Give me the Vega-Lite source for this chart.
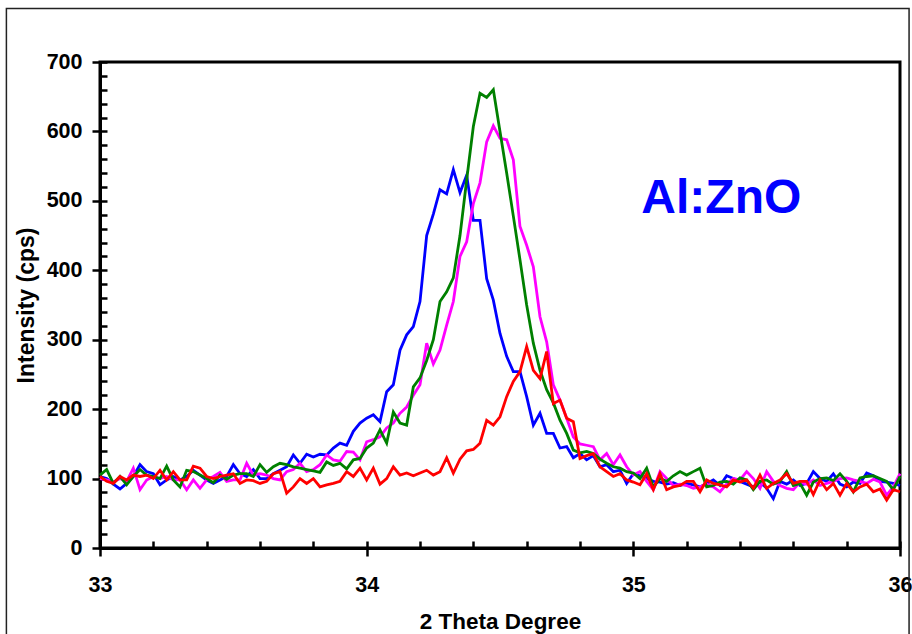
{
  "$schema": "https://vega.github.io/schema/vega-lite/v6.json",
  "width": 800,
  "height": 486,
  "autosize": "none",
  "padding": {"left": 100, "top": 62, "right": 12, "bottom": 86},
  "background": "white",
  "config": {"view": {"stroke": "#000", "strokeWidth": 3}, "font": "Liberation Sans"},
  "resolve": {"axis": {"x": "independent", "y": "independent"}},
  "layer": [
    {
      "data": {"values": [{}]},
      "mark": {"type": "rect", "fill": "white", "fillOpacity": 0, "stroke": "#222", "strokeWidth": 1.5, "clip": false},
      "encoding": {
        "x": {"datum": 32.649, "type": "quantitative", "scale": {"domain": [33, 36], "nice": false, "zero": false},
          "axis": {"orient": "bottom", "values": [33, 33.2, 33.4, 33.6, 33.8, 34, 34.2, 34.4, 34.6, 34.8, 35, 35.2, 35.4, 35.6, 35.8, 36], "tickSize": -7, "tickWidth": 2.5, "tickColor": "#000", "labels": false, "domain": false, "grid": false, "title": null}},
        "x2": {"datum": 36.034},
        "y": {"datum": 777, "type": "quantitative", "scale": {"domain": [0, 700], "nice": false, "zero": false},
          "axis": {"orient": "left", "values": [0, 20, 40, 60, 80, 100, 120, 140, 160, 180, 200, 220, 240, 260, 280, 300, 320, 340, 360, 380, 400, 420, 440, 460, 480, 500, 520, 540, 560, 580, 600, 620, 640, 660, 680, 700], "tickSize": -7, "tickWidth": 2.5, "tickColor": "#000", "labels": false, "domain": false, "grid": false, "title": null}},
        "y2": {"datum": -200}
      }
    },
    {
      "data": {"values": [
        {"t":33,"blue":103,"magenta":100,"green":105,"red":103},
        {"t":33.025,"blue":100,"magenta":98,"green":113,"red":96},
        {"t":33.05,"blue":92,"magenta":95,"green":93,"red":93},
        {"t":33.075,"blue":85,"magenta":100,"green":103,"red":103},
        {"t":33.1,"blue":93,"magenta":96,"green":91,"red":98},
        {"t":33.125,"blue":103,"magenta":115,"green":103,"red":105},
        {"t":33.15,"blue":120,"magenta":84,"green":113,"red":103},
        {"t":33.175,"blue":110,"magenta":98,"green":105,"red":105},
        {"t":33.2,"blue":107,"magenta":103,"green":103,"red":100},
        {"t":33.225,"blue":91,"magenta":100,"green":100,"red":112},
        {"t":33.25,"blue":98,"magenta":103,"green":118,"red":98},
        {"t":33.275,"blue":103,"magenta":98,"green":98,"red":110},
        {"t":33.3,"blue":98,"magenta":98,"green":88,"red":98},
        {"t":33.325,"blue":103,"magenta":84,"green":112,"red":98},
        {"t":33.35,"blue":112,"magenta":98,"green":110,"red":118},
        {"t":33.375,"blue":105,"magenta":86,"green":105,"red":115},
        {"t":33.4,"blue":98,"magenta":98,"green":100,"red":103},
        {"t":33.425,"blue":93,"magenta":103,"green":94,"red":100},
        {"t":33.45,"blue":98,"magenta":109,"green":105,"red":103},
        {"t":33.475,"blue":103,"magenta":96,"green":99,"red":105},
        {"t":33.5,"blue":120,"magenta":98,"green":105,"red":107},
        {"t":33.525,"blue":107,"magenta":98,"green":107,"red":93},
        {"t":33.55,"blue":103,"magenta":122,"green":107,"red":98},
        {"t":33.575,"blue":113,"magenta":105,"green":103,"red":97},
        {"t":33.6,"blue":100,"magenta":107,"green":120,"red":93},
        {"t":33.625,"blue":100,"magenta":105,"green":109,"red":96},
        {"t":33.65,"blue":107,"magenta":100,"green":117,"red":107},
        {"t":33.675,"blue":112,"magenta":98,"green":122,"red":110},
        {"t":33.7,"blue":117,"magenta":110,"green":120,"red":79},
        {"t":33.725,"blue":134,"magenta":113,"green":117,"red":88},
        {"t":33.75,"blue":122,"magenta":122,"green":115,"red":100},
        {"t":33.775,"blue":135,"magenta":110,"green":113,"red":93},
        {"t":33.8,"blue":131,"magenta":113,"green":111,"red":100},
        {"t":33.825,"blue":135,"magenta":120,"green":109,"red":88},
        {"t":33.85,"blue":134,"magenta":134,"green":124,"red":91},
        {"t":33.875,"blue":144,"magenta":127,"green":119,"red":93},
        {"t":33.9,"blue":151,"magenta":125,"green":122,"red":96},
        {"t":33.925,"blue":148,"magenta":139,"green":114,"red":110},
        {"t":33.95,"blue":168,"magenta":138,"green":127,"red":103},
        {"t":33.975,"blue":180,"magenta":127,"green":129,"red":115},
        {"t":34,"blue":187,"magenta":153,"green":144,"red":98},
        {"t":34.025,"blue":192,"magenta":156,"green":151,"red":115},
        {"t":34.05,"blue":182,"magenta":160,"green":170,"red":92},
        {"t":34.075,"blue":225,"magenta":173,"green":151,"red":100},
        {"t":34.1,"blue":235,"magenta":180,"green":196,"red":117},
        {"t":34.125,"blue":285,"magenta":194,"green":180,"red":105},
        {"t":34.15,"blue":307,"magenta":203,"green":177,"red":108},
        {"t":34.175,"blue":319,"magenta":220,"green":232,"red":104},
        {"t":34.2,"blue":355,"magenta":235,"green":245,"red":108},
        {"t":34.225,"blue":450,"magenta":295,"green":270,"red":112},
        {"t":34.25,"blue":481,"magenta":265,"green":300,"red":105},
        {"t":34.275,"blue":516,"magenta":285,"green":355,"red":110},
        {"t":34.3,"blue":510,"magenta":321,"green":369,"red":130},
        {"t":34.325,"blue":545,"magenta":355,"green":389,"red":108},
        {"t":34.35,"blue":512,"magenta":420,"green":450,"red":128},
        {"t":34.375,"blue":537,"magenta":441,"green":530,"red":140},
        {"t":34.4,"blue":472,"magenta":496,"green":607,"red":142},
        {"t":34.425,"blue":472,"magenta":526,"green":655,"red":151},
        {"t":34.45,"blue":388,"magenta":585,"green":649,"red":184},
        {"t":34.475,"blue":357,"magenta":608,"green":660,"red":177},
        {"t":34.5,"blue":309,"magenta":590,"green":600,"red":189},
        {"t":34.525,"blue":276,"magenta":588,"green":540,"red":218},
        {"t":34.55,"blue":254,"magenta":559,"green":478,"red":240},
        {"t":34.575,"blue":254,"magenta":463,"green":415,"red":254},
        {"t":34.6,"blue":218,"magenta":436,"green":350,"red":290},
        {"t":34.625,"blue":177,"magenta":405,"green":295,"red":256},
        {"t":34.65,"blue":194,"magenta":333,"green":256,"red":244},
        {"t":34.675,"blue":165,"magenta":297,"green":228,"red":283},
        {"t":34.7,"blue":165,"magenta":235,"green":209,"red":208},
        {"t":34.725,"blue":144,"magenta":213,"green":184,"red":213},
        {"t":34.75,"blue":146,"magenta":187,"green":165,"red":187},
        {"t":34.775,"blue":130,"magenta":160,"green":141,"red":182},
        {"t":34.8,"blue":136,"magenta":150,"green":137,"red":129},
        {"t":34.825,"blue":127,"magenta":148,"green":139,"red":133},
        {"t":34.85,"blue":133,"magenta":146,"green":136,"red":136},
        {"t":34.875,"blue":117,"magenta":127,"green":128,"red":117},
        {"t":34.9,"blue":120,"magenta":136,"green":122,"red":110},
        {"t":34.925,"blue":110,"magenta":120,"green":117,"red":103},
        {"t":34.95,"blue":112,"magenta":134,"green":115,"red":107},
        {"t":34.975,"blue":93,"magenta":117,"green":110,"red":98},
        {"t":35,"blue":107,"magenta":105,"green":108,"red":95},
        {"t":35.025,"blue":104,"magenta":110,"green":100,"red":91},
        {"t":35.05,"blue":100,"magenta":96,"green":115,"red":107},
        {"t":35.075,"blue":96,"magenta":84,"green":88,"red":84},
        {"t":35.1,"blue":95,"magenta":110,"green":100,"red":107},
        {"t":35.125,"blue":92,"magenta":100,"green":96,"red":84},
        {"t":35.15,"blue":94,"magenta":90,"green":104,"red":88},
        {"t":35.175,"blue":90,"magenta":92,"green":110,"red":90},
        {"t":35.2,"blue":93,"magenta":90,"green":105,"red":96},
        {"t":35.225,"blue":91,"magenta":86,"green":110,"red":96},
        {"t":35.25,"blue":88,"magenta":88,"green":115,"red":81},
        {"t":35.275,"blue":93,"magenta":92,"green":88,"red":98},
        {"t":35.3,"blue":98,"magenta":88,"green":90,"red":93},
        {"t":35.325,"blue":90,"magenta":81,"green":95,"red":91},
        {"t":35.35,"blue":104,"magenta":92,"green":96,"red":88},
        {"t":35.375,"blue":100,"magenta":100,"green":92,"red":98},
        {"t":35.4,"blue":96,"magenta":98,"green":101,"red":95},
        {"t":35.425,"blue":92,"magenta":110,"green":98,"red":98},
        {"t":35.45,"blue":88,"magenta":100,"green":84,"red":86},
        {"t":35.475,"blue":95,"magenta":86,"green":96,"red":105},
        {"t":35.5,"blue":86,"magenta":110,"green":98,"red":86},
        {"t":35.525,"blue":71,"magenta":96,"green":92,"red":93},
        {"t":35.55,"blue":96,"magenta":90,"green":96,"red":98},
        {"t":35.575,"blue":92,"magenta":86,"green":110,"red":107},
        {"t":35.6,"blue":98,"magenta":84,"green":90,"red":93},
        {"t":35.625,"blue":90,"magenta":95,"green":93,"red":96},
        {"t":35.65,"blue":93,"magenta":92,"green":76,"red":96},
        {"t":35.675,"blue":110,"magenta":98,"green":95,"red":77},
        {"t":35.7,"blue":100,"magenta":90,"green":100,"red":98},
        {"t":35.725,"blue":96,"magenta":93,"green":101,"red":84},
        {"t":35.75,"blue":107,"magenta":96,"green":97,"red":93},
        {"t":35.775,"blue":92,"magenta":100,"green":107,"red":76},
        {"t":35.8,"blue":88,"magenta":101,"green":96,"red":93},
        {"t":35.825,"blue":95,"magenta":98,"green":81,"red":81},
        {"t":35.85,"blue":93,"magenta":96,"green":101,"red":88},
        {"t":35.875,"blue":108,"magenta":93,"green":103,"red":92},
        {"t":35.9,"blue":104,"magenta":99,"green":104,"red":81},
        {"t":35.925,"blue":96,"magenta":95,"green":100,"red":85},
        {"t":35.95,"blue":95,"magenta":76,"green":96,"red":69},
        {"t":35.975,"blue":93,"magenta":88,"green":84,"red":84},
        {"t":36,"blue":90,"magenta":107,"green":103,"red":81}
      ]},
      "transform": [{"fold": ["blue", "magenta", "green", "red"], "as": ["series", "intensity"]}],
      "mark": {"type": "line", "strokeWidth": 2.8},
      "encoding": {
        "x": {"field": "t", "type": "quantitative", "scale": {"domain": [33, 36], "nice": false, "zero": false},
          "axis": {"orient": "bottom", "values": [33, 34, 35, 36], "format": "d", "tickSize": 8, "tickWidth": 2.5, "tickColor": "#000", "domainColor": "#000", "domainWidth": 3, "grid": false,
            "labelFont": "Liberation Sans", "labelFontWeight": "bold", "labelFontSize": 21.5, "labelColor": "#000", "labelPadding": 18, "labelFlush": false, "labelOverlap": false,
            "title": "2 Theta Degree", "titleFont": "Liberation Sans", "titleFontWeight": "bold", "titleFontSize": 22.5, "titleColor": "#000", "titlePadding": 15}},
        "y": {"field": "intensity", "type": "quantitative", "scale": {"domain": [0, 700], "nice": false, "zero": false},
          "axis": {"orient": "left", "values": [0, 100, 200, 300, 400, 500, 600, 700], "format": "d", "tickSize": 8, "tickWidth": 2.5, "tickColor": "#000", "domainColor": "#000", "domainWidth": 3, "grid": false,
            "labelFont": "Liberation Sans", "labelFontWeight": "bold", "labelFontSize": 21.5, "labelColor": "#000", "labelPadding": 10, "labelFlush": false, "labelOverlap": false,
            "title": "Intensity (cps)", "titleFont": "Liberation Sans", "titleFontWeight": "bold", "titleFontSize": 23, "titleColor": "#000", "titlePadding": 8}},
        "color": {"field": "series", "type": "nominal", "scale": {"domain": ["blue", "magenta", "green", "red"], "range": ["#0000ff", "#ff00ff", "#008000", "#ff0000"]}, "legend": null}
      }
    },
    {
      "data": {"values": [{}]},
      "mark": {"type": "text", "text": "Al:ZnO", "font": "Liberation Sans", "fontWeight": "bold", "fontSize": 48, "fill": "#0000ff", "align": "center", "baseline": "alphabetic"},
      "encoding": {
        "x": {"datum": 35.33, "type": "quantitative", "axis": null},
        "y": {"datum": 482, "type": "quantitative", "axis": null}
      }
    }
  ]
}
